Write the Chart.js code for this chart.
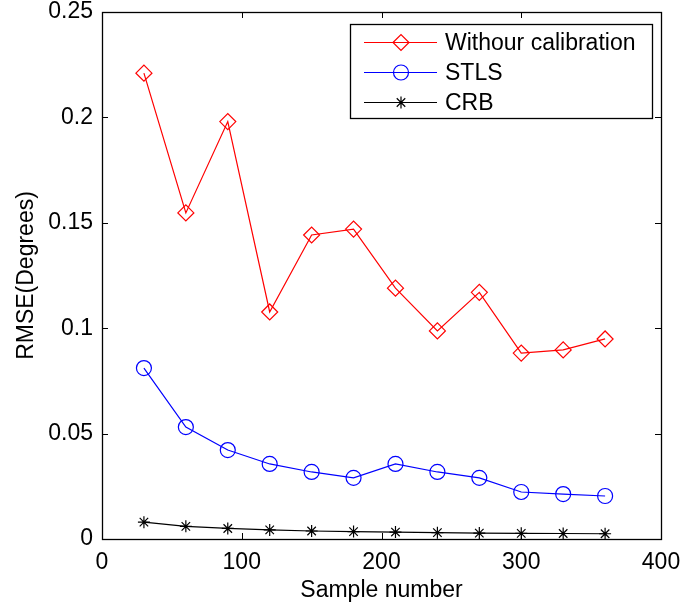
<!DOCTYPE html>
<html>
<head>
<meta charset="utf-8">
<script src="https://cdn.jsdelivr.net/npm/chart.js@4"></script>
<style>
  html, body { margin: 0; padding: 0; background: #fff; }
  #wrap { width: 685px; height: 605px; }
</style>
</head>
<body>
<div id="wrap"><canvas id="rmseChart"></canvas></div>
<script>
const sampleNumbers = [30, 60, 90, 120, 150, 180, 210, 240, 270, 300, 330, 360];
const withoutCalib = [0.221, 0.1547, 0.198, 0.1077, 0.1442, 0.147, 0.119, 0.0987, 0.117, 0.0882, 0.0897, 0.0949];
const stls = [0.0811, 0.0531, 0.0422, 0.0356, 0.0318, 0.029, 0.0356, 0.0318, 0.029, 0.0223, 0.0213, 0.0204];
const crb = [0.008, 0.006, 0.005, 0.0043, 0.0038, 0.0035, 0.0033, 0.003, 0.0028, 0.0027, 0.0026, 0.0025];
const seriesNames = ['Withour calibration', 'STLS', 'CRB'];

const FONT = 'Liberation Sans, Arial, sans-serif';
const FSIZE = 23;

function toPoints(vals) {
    return sampleNumbers.map((x, i) => ({ x: x, y: vals[i] }));
}

// frame, inward ticks and the boxed legend, MATLAB style
const matlabFrame = {
    id: 'matlabFrame',
    afterDatasetsDraw(chart) {
        const ctx = chart.ctx;
        const a = chart.chartArea;
        const xs = chart.scales.x, ys = chart.scales.y;
        ctx.save();
        ctx.strokeStyle = '#000';
        ctx.lineWidth = 1.3;
        ctx.strokeRect(Math.round(a.left) + 0.5, Math.round(a.top) + 0.5,
            Math.round(a.right - a.left), Math.round(a.bottom - a.top));
        ctx.lineWidth = 1;
        const len = 6;
        ctx.beginPath();
        xs.ticks.forEach(t => {
            const px = Math.round(xs.getPixelForValue(t.value)) + 0.5;
            ctx.moveTo(px, a.bottom); ctx.lineTo(px, a.bottom - len);
            ctx.moveTo(px, a.top); ctx.lineTo(px, a.top + len);
        });
        ys.ticks.forEach(t => {
            const py = Math.round(ys.getPixelForValue(t.value)) + 0.5;
            ctx.moveTo(a.left, py); ctx.lineTo(a.left + len, py);
            ctx.moveTo(a.right, py); ctx.lineTo(a.right - len, py);
        });
        ctx.stroke();

        // legend box
        const bx = 350.5, by = 24.5, bw = 302, bh = 94;
        ctx.fillStyle = '#fff';
        ctx.fillRect(bx, by, bw, bh);
        ctx.lineWidth = 1.3;
        ctx.strokeRect(bx, by, bw, bh);
        const rowY = [42, 72, 102];
        ctx.font = FSIZE + 'px ' + FONT;
        ctx.textBaseline = 'middle';
        chart.data.datasets.forEach((ds, i) => {
            const y = rowY[i] + 0.5;
            ctx.strokeStyle = ds.borderColor;
            ctx.fillStyle = 'rgba(0,0,0,0)';
            ctx.lineWidth = 1.2;
            ctx.beginPath();
            ctx.moveTo(364, y); ctx.lineTo(437, y);
            ctx.stroke();
            Chart.helpers.drawPoint(ctx, {
                pointStyle: ds.pointStyle,
                radius: ds.pointRadius,
                borderWidth: 1.2
            }, 401, y);
            ctx.fillStyle = '#000';
            ctx.fillText(ds.label, 445, y + 1);
        });
        ctx.restore();
    }
};

const ctx = document.getElementById('rmseChart').getContext('2d');
new Chart(ctx, {
    type: 'line',
    data: {
        datasets: [
            {
                label: seriesNames[0],
                data: toPoints(withoutCalib),
                borderColor: '#ff0000',
                backgroundColor: 'rgba(0,0,0,0)',
                borderWidth: 1.2,
                pointStyle: 'rectRot',
                pointRadius: 8,
                pointBorderWidth: 1.2
            },
            {
                label: seriesNames[1],
                data: toPoints(stls),
                borderColor: '#0000ff',
                backgroundColor: 'rgba(0,0,0,0)',
                borderWidth: 1.2,
                pointStyle: 'circle',
                pointRadius: 7.5,
                pointBorderWidth: 1.2
            },
            {
                label: seriesNames[2],
                data: toPoints(crb),
                borderColor: '#000000',
                backgroundColor: 'rgba(0,0,0,0)',
                borderWidth: 1.2,
                pointStyle: 'star',
                pointRadius: 6,
                pointBorderWidth: 1.2
            }
        ]
    },
    options: {
        responsive: true,
        maintainAspectRatio: false,
        animation: false,
        layout: { padding: { top: 12, right: 24, left: 0, bottom: 0 } },
        plugins: {
            legend: { display: false },
            tooltip: { enabled: false }
        },
        scales: {
            x: {
                type: 'linear',
                min: 0, max: 400,
                grid: { display: false, drawTicks: false },
                border: { display: false },
                ticks: {
                    stepSize: 100,
                    color: '#000',
                    padding: 10,
                    maxRotation: 0,
                    font: { family: FONT, size: FSIZE }
                },
                title: {
                    display: true,
                    text: 'Sample number',
                    color: '#000',
                    padding: { top: 1, bottom: 1 },
                    font: { family: FONT, size: FSIZE }
                },
                afterFit(scale) {
                    scale.height = 66;
                    scale.paddingLeft = 0;
                    scale.paddingRight = 0;
                }
            },
            y: {
                min: 0, max: 0.25,
                grid: { display: false, drawTicks: false },
                border: { display: false },
                ticks: {
                    stepSize: 0.05,
                    color: '#000',
                    padding: 9,
                    font: { family: FONT, size: FSIZE },
                    callback: v => String(Math.round(v * 100) / 100)
                },
                title: {
                    display: true,
                    text: 'RMSE(Degrees)',
                    color: '#000',
                    padding: { top: 13, bottom: 13 },
                    font: { family: FONT, size: FSIZE }
                },
                afterFit(scale) {
                    scale.width = 102;
                    scale.paddingTop = 0;
                    scale.paddingBottom = 0;
                }
            }
        }
    },
    plugins: [matlabFrame]
});
</script>
</body>
</html>
